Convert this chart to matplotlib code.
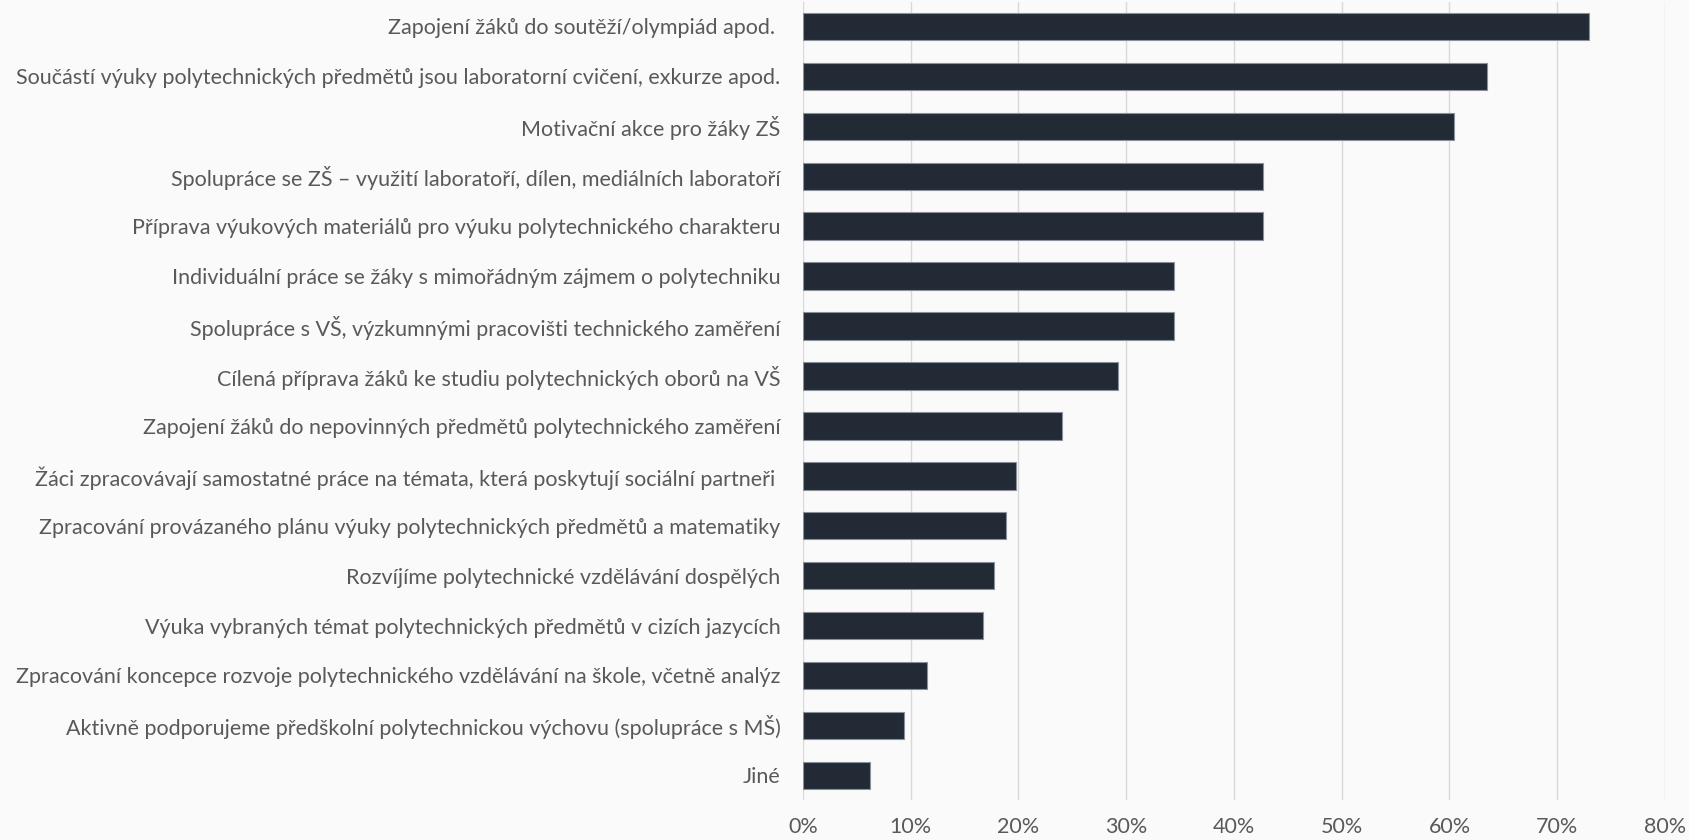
import matplotlib
matplotlib.use("Agg")
import matplotlib.pyplot as plt
from matplotlib.ticker import PercentFormatter

categories = [
    "Zapojení žáků do soutěží/olympiád apod. ",
    "Součástí výuky polytechnických předmětů jsou laboratorní cvičení, exkurze apod.",
    "Motivační akce pro žáky ZŠ",
    "Spolupráce se ZŠ – využití laboratoří, dílen, mediálních laboratoří",
    "Příprava výukových materiálů pro výuku polytechnického charakteru",
    "Individuální práce se žáky s mimořádným zájmem o polytechniku",
    "Spolupráce s VŠ, výzkumnými pracovišti technického zaměření",
    "Cílená příprava žáků ke studiu polytechnických oborů na VŠ",
    "Zapojení žáků do nepovinných předmětů polytechnického zaměření",
    "Žáci zpracovávají samostatné práce na témata, která poskytují sociální partneři ",
    "Zpracování provázaného plánu výuky polytechnických předmětů a matematiky",
    "Rozvíjíme polytechnické vzdělávání dospělých",
    "Výuka vybraných témat polytechnických předmětů v cizích jazycích",
    "Zpracování koncepce rozvoje polytechnického vzdělávání na škole, včetně analýz",
    "Aktivně podporujeme předškolní polytechnickou výchovu (spolupráce s MŠ)",
    "Jiné",
]
values = [72.9, 63.5, 60.4, 42.7, 42.7, 34.4, 34.4, 29.2, 24.0, 19.8,
          18.8, 17.7, 16.7, 11.5, 9.4, 6.2]

bg = "#fafafa"
bar_color = "#222a35"
text_color = "#595959"

plt.rcParams["font.family"] = ["Lato", "DejaVu Sans"]

fig = plt.figure(figsize=(16.89, 8.4), dpi=100, facecolor=bg)
ax = fig.add_axes([0.4754, 0.0473, 0.9858 - 0.4754, 0.9982 - 0.0473], facecolor=bg)

ypos = list(range(len(categories)))
ax.barh(ypos, values, height=0.55, color=bar_color, edgecolor="#8a909a",
        linewidth=0.8, zorder=3)

ax.set_yticks(ypos)
ax.set_yticklabels(categories)
ax.set_ylim(len(categories) - 0.5, -0.5)
ax.set_xlim(0, 80)
ax.set_xticks(range(0, 81, 10))
ax.xaxis.set_major_formatter(PercentFormatter(decimals=0))

ax.grid(axis="x", color="#d9d9d9", linewidth=1, zorder=0)
for s in ax.spines.values():
    s.set_visible(False)
ax.tick_params(axis="both", length=0, colors=text_color, labelsize=15.5)
ax.tick_params(axis="y", pad=16)
ax.tick_params(axis="x", pad=12)

fig.savefig("out.png", dpi=100, facecolor=bg)
